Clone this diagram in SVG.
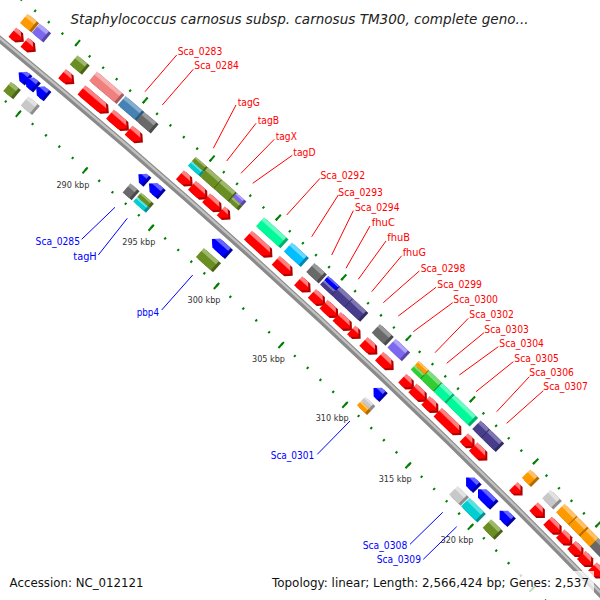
<svg xmlns="http://www.w3.org/2000/svg" width="600" height="600" viewBox="0 0 600 600">
<style>
text{font-family:"DejaVu Sans","Liberation Sans",sans-serif}
.lf{fill:#f00;font-size:10px}
.lb{fill:#00f;font-size:10px;text-anchor:end}
.kb{fill:#333;font-size:8.5px;text-anchor:middle}
.rl{stroke:#f00;stroke-width:1}
.bl{stroke:#00f;stroke-width:1}
.tk{fill:none;stroke:#007f00}
.R{fill:url(#gR)}.Rs{fill:#b00000}
.B{fill:url(#gB)}.Bs{fill:#0000a8}
.O{fill:url(#gO)}.Os{fill:#b36b00}
.P{fill:url(#gP)}.Ps{fill:#5646a6}
.V{fill:url(#gV)}.Vs{fill:#4a6318}
.C{fill:url(#gC)}.Cs{fill:#a85a5a}
.S{fill:url(#gS)}.Ss{fill:#315b7e}
.D{fill:url(#gD)}.Ds{fill:#4a4a4a}
.T{fill:url(#gT)}.Ts{fill:#009092}
.G{fill:url(#gG)}.Gs{fill:#00af6c}
.K{fill:url(#gK)}.Ks{fill:#0086b3}
.N{fill:url(#gN)}.Ns{fill:#322b61}
.L{fill:url(#gL)}.Ls{fill:#238f23}
.Y{fill:url(#gY)}.Ys{fill:#8c8c8c}
</style>
<defs>
<linearGradient id="gR" x1="0" y1="0" x2="0" y2="1"><stop offset=".28" stop-color="#ff8080"/><stop offset=".38" stop-color="#f00"/></linearGradient>
<linearGradient id="gB" x1="0" y1="0" x2="0" y2="1"><stop offset=".28" stop-color="#6666ff"/><stop offset=".38" stop-color="#00f"/></linearGradient>
<linearGradient id="gO" x1="0" y1="0" x2="0" y2="1"><stop offset=".28" stop-color="#ffc266"/><stop offset=".38" stop-color="#ff9900"/></linearGradient>
<linearGradient id="gP" x1="0" y1="0" x2="0" y2="1"><stop offset=".28" stop-color="#b0a4f5"/><stop offset=".38" stop-color="#7b68ee"/></linearGradient>
<linearGradient id="gV" x1="0" y1="0" x2="0" y2="1"><stop offset=".28" stop-color="#9db86b"/><stop offset=".38" stop-color="#6b8e23"/></linearGradient>
<linearGradient id="gC" x1="0" y1="0" x2="0" y2="1"><stop offset=".28" stop-color="#f6b0b0"/><stop offset=".38" stop-color="#f08080"/></linearGradient>
<linearGradient id="gS" x1="0" y1="0" x2="0" y2="1"><stop offset=".28" stop-color="#84adcf"/><stop offset=".38" stop-color="#4682b4"/></linearGradient>
<linearGradient id="gD" x1="0" y1="0" x2="0" y2="1"><stop offset=".28" stop-color="#9a9a9a"/><stop offset=".38" stop-color="#696969"/></linearGradient>
<linearGradient id="gT" x1="0" y1="0" x2="0" y2="1"><stop offset=".28" stop-color="#5ce1e3"/><stop offset=".38" stop-color="#00ced1"/></linearGradient>
<linearGradient id="gG" x1="0" y1="0" x2="0" y2="1"><stop offset=".28" stop-color="#66fcc2"/><stop offset=".38" stop-color="#00fa9a"/></linearGradient>
<linearGradient id="gK" x1="0" y1="0" x2="0" y2="1"><stop offset=".28" stop-color="#66d9ff"/><stop offset=".38" stop-color="#00bfff"/></linearGradient>
<linearGradient id="gN" x1="0" y1="0" x2="0" y2="1"><stop offset=".28" stop-color="#7f77b3"/><stop offset=".38" stop-color="#483d8b"/></linearGradient>
<linearGradient id="gL" x1="0" y1="0" x2="0" y2="1"><stop offset=".28" stop-color="#7cdf7c"/><stop offset=".38" stop-color="#32cd32"/></linearGradient>
<linearGradient id="gY" x1="0" y1="0" x2="0" y2="1"><stop offset=".28" stop-color="#e2e2e2"/><stop offset=".38" stop-color="#c8c8c8"/></linearGradient>
</defs>
<rect width="600" height="600" fill="#fff"/>
<g id="map" transform="translate(279.8 346.5) rotate(42.76)">
<g id="ruler">
<path class="tk" stroke-width="2.5" stroke-dasharray="2 15.508" stroke-dashoffset="1" d="M-437.45 10.142A7151.25 7151.25 0 0 1 437.45 10.142"/>
<path class="tk" stroke-width="8" stroke-dasharray="2 85.524" stroke-dashoffset="1" d="M-437.37 11.39A7150 7150 0 0 1 437.37 11.39"/>
<path class="tk" stroke-width="2.5" stroke-dasharray="2 15.7245" stroke-dashoffset="1" d="M-442.86-78.192A7239.75 7239.75 0 0 1 442.86-78.192"/>
<path class="tk" stroke-width="7.5" stroke-dasharray="2 86.6538" stroke-dashoffset="1" d="M-443.01-80.688A7242.25 7242.25 0 0 1 443.01-80.688"/>
</g>
<g id="backbone">
<path d="M-476.86-31.478A7195.3 7195.3 0 0 1 476.86-31.478" fill="none" stroke="#8a8a8a" stroke-width="6.5"/>
<path d="M-476.93-32.475A7196.3 7196.3 0 0 1 476.93-32.475" fill="none" stroke="#c2c2c2" stroke-width="2.2"/>
</g>
<g id="forward">
<g id="f01" transform="rotate(-3.21103 0 7148)"><path class="Rs" transform="translate(3)" d="M-6-66.8H0L6-60.8 0-54.8H-6Z"/><path class="R" d="M-6-66.8H0L6-60.8 0-54.8H-6Z"/><rect class="Os" x="-3" y="-84.8" width="12" height="12"/><rect class="O" x="-6" y="-84.8" width="12" height="12"/></g>
<g id="f02" transform="rotate(-3.08783 0 7148)"><path class="Rs" transform="translate(3)" d="M-6-66.8H0L6-60.8 0-54.8H-6Z"/><path class="R" d="M-6-66.8H0L6-60.8 0-54.8H-6Z"/><rect class="Ps" x="-3" y="-84.8" width="12" height="12"/><rect class="P" x="-6" y="-84.8" width="12" height="12"/></g>
<g id="f03" transform="rotate(-2.69282 0 7148)"><path class="Rs" transform="translate(3)" d="M-6.5-66.8H.5L6.5-60.8 .5-54.8H-6.5Z"/><path class="R" d="M-6.5-66.8H.5L6.5-60.8 .5-54.8H-6.5Z"/><rect class="Vs" x="-3.5" y="-84.8" width="13" height="12"/><rect class="V" x="-6.5" y="-84.8" width="13" height="12"/></g>
<g id="f04" transform="rotate(-2.41224 0 7148)"><path class="Rs" transform="translate(3)" d="M-16.5-66.8H10.5L16.5-60.8 10.5-54.8H-16.5Z"/><path class="R" d="M-16.5-66.8H10.5L16.5-60.8 10.5-54.8H-16.5Z"/><rect class="Cs" x="-13.5" y="-84.8" width="33" height="12"/><rect class="C" x="-16.5" y="-84.8" width="33" height="12"/></g>
<g id="Sca_0283" transform="rotate(-2.15791 0 7148)"><path class="Rs" transform="translate(3)" d="M-11-66.8H5L11-60.8 5-54.8H-11Z"/><path class="R" d="M-11-66.8H5L11-60.8 5-54.8H-11Z"/><rect class="Ss" x="-8" y="-84.8" width="22" height="12"/><rect class="S" x="-11" y="-84.8" width="22" height="12"/></g>
<g id="Sca_0284" transform="rotate(-1.98703 0 7148)"><path class="Rs" transform="translate(3)" d="M-8-66.8H2L8-60.8 2-54.8H-8Z"/><path class="R" d="M-8-66.8H2L8-60.8 2-54.8H-8Z"/><rect class="Ds" x="-5" y="-84.8" width="16" height="12"/><rect class="D" x="-8" y="-84.8" width="16" height="12"/></g>
<g id="tagG" transform="rotate(-1.4545 0 7148)"><path class="Rs" transform="translate(3)" d="M-7-66.8H1L7-60.8 1-54.8H-7Z"/><path class="R" d="M-7-66.8H1L7-60.8 1-54.8H-7Z"/><rect class="Vs" x="-4" y="-84.8" width="14" height="6"/><rect class="V" x="-7" y="-84.8" width="14" height="6"/><rect class="Ts" x="-4" y="-78.8" width="14" height="6"/><rect class="T" x="-7" y="-78.8" width="14" height="6"/></g>
<g id="tagB" transform="rotate(-1.31144 0 7148)"><path class="Rs" transform="translate(3)" d="M-9-66.8H3L9-60.8 3-54.8H-9Z"/><path class="R" d="M-9-66.8H3L9-60.8 3-54.8H-9Z"/><rect class="Vs" x="-6" y="-84.8" width="18" height="12"/><rect class="V" x="-9" y="-84.8" width="18" height="12"/></g>
<g id="tagX" transform="rotate(-1.16122 0 7148)"><path class="Rs" transform="translate(3)" d="M-9-66.8H3L9-60.8 3-54.8H-9Z"/><path class="R" d="M-9-66.8H3L9-60.8 3-54.8H-9Z"/><rect class="Vs" x="-6" y="-84.8" width="18" height="12"/><rect class="V" x="-9" y="-84.8" width="18" height="12"/></g>
<g id="tagD" transform="rotate(-1.03723 0 7148)"><path class="Rs" transform="translate(3)" d="M-5-66.8H-1L5-60.8-1-54.8H-5Z"/><path class="R" d="M-5-66.8H-1L5-60.8-1-54.8H-5Z"/><rect class="Ps" x="-2" y="-84.8" width="10" height="6"/><rect class="P" x="-5" y="-84.8" width="10" height="6"/><rect class="Vs" x="-2" y="-78.8" width="10" height="6"/><rect class="V" x="-5" y="-78.8" width="10" height="6"/></g>
<g id="Sca_0292" transform="rotate(-0.66764 0 7148)"><path class="Rs" transform="translate(3)" d="M-15-66.8H9L15-60.8 9-54.8H-15Z"/><path class="R" d="M-15-66.8H9L15-60.8 9-54.8H-15Z"/><rect class="Gs" x="-12" y="-84.8" width="30" height="12"/><rect class="G" x="-15" y="-84.8" width="30" height="12"/></g>
<g id="Sca_0293" transform="rotate(-0.40933 0 7148)"><path class="Rs" transform="translate(3)" d="M-10-66.8H4L10-60.8 4-54.8H-10Z"/><path class="R" d="M-10-66.8H4L10-60.8 4-54.8H-10Z"/><rect class="Ks" x="-7" y="-84.8" width="20" height="12"/><rect class="K" x="-10" y="-84.8" width="20" height="12"/></g>
<g id="Sca_0294" transform="rotate(-0.19234 0 7148)"><path class="Rs" transform="translate(3)" d="M-7-66.8H1L7-60.8 1-54.8H-7Z"/><path class="R" d="M-7-66.8H1L7-60.8 1-54.8H-7Z"/><rect class="Ds" x="-4" y="-84.8" width="14" height="12"/><rect class="D" x="-7" y="-84.8" width="14" height="12"/></g>
<g id="fhuC" transform="rotate(-0.03974 0 7148)"><path class="Rs" transform="translate(3)" d="M-7.5-66.8H1.5L7.5-60.8 1.5-54.8H-7.5Z"/><path class="R" d="M-7.5-66.8H1.5L7.5-60.8 1.5-54.8H-7.5Z"/><rect class="Bs" x="-4.5" y="-84.8" width="15" height="6"/><rect class="B" x="-7.5" y="-84.8" width="15" height="6"/><rect class="Ns" x="-4.5" y="-78.8" width="15" height="6"/><rect class="N" x="-7.5" y="-78.8" width="15" height="6"/></g>
<g id="fhuB" transform="rotate(0.09458 0 7148)"><path class="Rs" transform="translate(3)" d="M-8.5-66.8H2.5L8.5-60.8 2.5-54.8H-8.5Z"/><path class="R" d="M-8.5-66.8H2.5L8.5-60.8 2.5-54.8H-8.5Z"/><rect class="Ns" x="-5.5" y="-84.8" width="17" height="12"/><rect class="N" x="-8.5" y="-84.8" width="17" height="12"/></g>
<g id="fhuG" transform="rotate(0.24003 0 7148)"><path class="Rs" transform="translate(3)" d="M-9-66.8H3L9-60.8 3-54.8H-9Z"/><path class="R" d="M-9-66.8H3L9-60.8 3-54.8H-9Z"/><rect class="Ns" x="-6" y="-84.8" width="18" height="12"/><rect class="N" x="-9" y="-84.8" width="18" height="12"/></g>
<g id="Sca_0298" transform="rotate(0.36641 0 7148)"><path class="Rs" transform="translate(3)" d="M-5-66.8H-1L5-60.8-1-54.8H-5Z"/><path class="R" d="M-5-66.8H-1L5-60.8-1-54.8H-5Z"/></g>
<g id="Sca_0299" transform="rotate(0.52457 0 7148)"><path class="Rs" transform="translate(3)" d="M-8-66.8H2L8-60.8 2-54.8H-8Z"/><path class="R" d="M-8-66.8H2L8-60.8 2-54.8H-8Z"/><rect class="Ds" x="-5" y="-84.8" width="16" height="12"/><rect class="D" x="-8" y="-84.8" width="16" height="12"/></g>
<g id="Sca_0300" transform="rotate(0.69943 0 7148)"><path class="Rs" transform="translate(3)" d="M-8.5-66.8H2.5L8.5-60.8 2.5-54.8H-8.5Z"/><path class="R" d="M-8.5-66.8H2.5L8.5-60.8 2.5-54.8H-8.5Z"/><rect class="Ps" x="-5.5" y="-84.8" width="17" height="12"/><rect class="P" x="-8.5" y="-84.8" width="17" height="12"/></g>
<g id="Sca_0302" transform="rotate(0.93788 0 7148)"><path class="Rs" transform="translate(3)" d="M-6.5-66.8H.5L6.5-60.8 .5-54.8H-6.5Z"/><path class="R" d="M-6.5-66.8H.5L6.5-60.8 .5-54.8H-6.5Z"/><rect class="Os" x="-3.5" y="-84.8" width="13" height="6"/><rect class="O" x="-6.5" y="-84.8" width="13" height="6"/><rect class="Ls" x="-3.5" y="-78.8" width="13" height="6"/><rect class="L" x="-6.5" y="-78.8" width="13" height="6"/></g>
<g id="Sca_0303" transform="rotate(1.06505 0 7148)"><path class="Rs" transform="translate(3)" d="M-8.5-66.8H2.5L8.5-60.8 2.5-54.8H-8.5Z"/><path class="R" d="M-8.5-66.8H2.5L8.5-60.8 2.5-54.8H-8.5Z"/><rect class="Ls" x="-5.5" y="-84.8" width="17" height="12"/><rect class="L" x="-8.5" y="-84.8" width="17" height="12"/></g>
<g id="Sca_0304" transform="rotate(1.20016 0 7148)"><path class="Rs" transform="translate(3)" d="M-7.5-66.8H1.5L7.5-60.8 1.5-54.8H-7.5Z"/><path class="R" d="M-7.5-66.8H1.5L7.5-60.8 1.5-54.8H-7.5Z"/><rect class="Gs" x="-4.5" y="-84.8" width="15" height="12"/><rect class="G" x="-7.5" y="-84.8" width="15" height="12"/></g>
<g id="Sca_0305" transform="rotate(1.39489 0 7148)"><path class="Rs" transform="translate(3)" d="M-15-66.8H9L15-60.8 9-54.8H-15Z"/><path class="R" d="M-15-66.8H9L15-60.8 9-54.8H-15Z"/><rect class="Gs" x="-12" y="-84.8" width="30" height="12"/><rect class="G" x="-15" y="-84.8" width="30" height="12"/></g>
<g id="Sca_0306" transform="rotate(1.61346 0 7148)"><path class="Rs" transform="translate(3)" d="M-6-66.8H0L6-60.8 0-54.8H-6Z"/><path class="R" d="M-6-66.8H0L6-60.8 0-54.8H-6Z"/><rect class="Ns" x="-3" y="-84.8" width="12" height="12"/><rect class="N" x="-6" y="-84.8" width="12" height="12"/></g>
<g id="Sca_0307" transform="rotate(1.73587 0 7148)"><path class="Rs" transform="translate(3)" d="M-8.5-66.8H2.5L8.5-60.8 2.5-54.8H-8.5Z"/><path class="R" d="M-8.5-66.8H2.5L8.5-60.8 2.5-54.8H-8.5Z"/><rect class="Ns" x="-5.5" y="-84.8" width="17" height="12"/><rect class="N" x="-8.5" y="-84.8" width="17" height="12"/></g>
<g id="f26" transform="rotate(2.15791 0 7148)"><path class="Rs" transform="translate(3)" d="M-5-66.8H-1L5-60.8-1-54.8H-5Z"/><path class="R" d="M-5-66.8H-1L5-60.8-1-54.8H-5Z"/><rect class="Os" x="-2" y="-84.8" width="10" height="12"/><rect class="O" x="-5" y="-84.8" width="10" height="12"/></g>
<g id="f27" transform="rotate(2.39715 0 7148)"><path class="Rs" transform="translate(3)" d="M-6.5-66.8H.5L6.5-60.8 .5-54.8H-6.5Z"/><path class="R" d="M-6.5-66.8H.5L6.5-60.8 .5-54.8H-6.5Z"/><rect class="Ys" x="-3.5" y="-84.8" width="13" height="12"/><rect class="Y" x="-6.5" y="-84.8" width="13" height="12"/></g>
<g id="f28" transform="rotate(2.57042 0 7148)"><path class="Rs" transform="translate(3)" d="M-8.5-66.8H2.5L8.5-60.8 2.5-54.8H-8.5Z"/><path class="R" d="M-8.5-66.8H2.5L8.5-60.8 2.5-54.8H-8.5Z"/><rect class="Os" x="-5.5" y="-84.8" width="17" height="12"/><rect class="O" x="-8.5" y="-84.8" width="17" height="12"/></g>
<g id="f29" transform="rotate(2.70235 0 7148)"><path class="Rs" transform="translate(3)" d="M-7-66.8H1L7-60.8 1-54.8H-7Z"/><path class="R" d="M-7-66.8H1L7-60.8 1-54.8H-7Z"/><rect class="Os" x="-4" y="-84.8" width="14" height="12"/><rect class="O" x="-7" y="-84.8" width="14" height="12"/></g>
<g id="f30" transform="rotate(2.82952 0 7148)"><path class="Rs" transform="translate(3)" d="M-7-66.8H1L7-60.8 1-54.8H-7Z"/><path class="R" d="M-7-66.8H1L7-60.8 1-54.8H-7Z"/><rect class="Os" x="-4" y="-84.8" width="14" height="12"/><rect class="O" x="-7" y="-84.8" width="14" height="12"/></g>
<g id="f31" transform="rotate(2.9408 0 7148)"><path class="Rs" transform="translate(3)" d="M-7-66.8H1L7-60.8 1-54.8H-7Z"/><path class="R" d="M-7-66.8H1L7-60.8 1-54.8H-7Z"/><rect class="Ds" x="-4" y="-84.8" width="14" height="12"/><rect class="D" x="-7" y="-84.8" width="14" height="12"/></g>
<g id="f32" transform="rotate(3.06797 0 7148)"><path class="Rs" transform="translate(3)" d="M-7-66.8H1L7-60.8 1-54.8H-7Z"/><path class="R" d="M-7-66.8H1L7-60.8 1-54.8H-7Z"/></g>
</g>
<g id="reverse">
<g id="r01" transform="rotate(-2.97579 0 7148)"><path class="Bs" transform="translate(3)" d="M5-39.8H1L-5-33.8 1-27.8H5Z"/><path class="B" d="M5-39.8H1L-5-33.8 1-27.8H5Z"/><rect class="Vs" x="-2" y="-21.8" width="10" height="12"/><rect class="V" x="-5" y="-21.8" width="10" height="12"/></g>
<g id="r02" transform="rotate(-2.89601 0 7148)"><path class="Bs" transform="translate(3)" d="M6-39.8H0L-6-33.8 0-27.8H6Z"/><path class="B" d="M6-39.8H0L-6-33.8 0-27.8H6Z"/></g>
<g id="r03" transform="rotate(-2.78592 0 7148)"><path class="Bs" transform="translate(3)" d="M6-39.8H0L-6-33.8 0-27.8H6Z"/><path class="B" d="M6-39.8H0L-6-33.8 0-27.8H6Z"/><rect class="Ys" x="-3" y="-21.8" width="12" height="12"/><rect class="Y" x="-6" y="-21.8" width="12" height="12"/></g>
<g id="Sca_0285" transform="rotate(-1.72561 0 7148)"><path class="Bs" transform="translate(3)" d="M4.5-39.8H1.5L-4.5-33.8 1.5-27.8H4.5Z"/><path class="B" d="M4.5-39.8H1.5L-4.5-33.8 1.5-27.8H4.5Z"/><rect class="Ds" x="-1.5" y="-21.8" width="9" height="12"/><rect class="D" x="-4.5" y="-21.8" width="9" height="12"/></g>
<g id="tagH" transform="rotate(-1.59321 0 7148)"><path class="Bs" transform="translate(3)" d="M7-39.8H-1L-7-33.8-1-27.8H7Z"/><path class="B" d="M7-39.8H-1L-7-33.8-1-27.8H7Z"/><rect class="Vs" x="-4" y="-21.8" width="14" height="6"/><rect class="V" x="-7" y="-21.8" width="14" height="6"/><rect class="Ts" x="-4" y="-15.8" width="14" height="6"/><rect class="T" x="-7" y="-15.8" width="14" height="6"/></g>
<g id="pbp4" transform="rotate(-0.89992 0 7148)"><path class="Bs" transform="translate(3)" d="M10-39.8H-4L-10-33.8-4-27.8H10Z"/><path class="B" d="M10-39.8H-4L-10-33.8-4-27.8H10Z"/><rect class="Vs" x="-7" y="-21.8" width="20" height="12"/><rect class="V" x="-10" y="-21.8" width="20" height="12"/></g>
<g id="Sca_0301" transform="rotate(0.81695 0 7148)"><path class="Bs" transform="translate(3)" d="M5.5-39.8H.5L-5.5-33.8 .5-27.8H5.5Z"/><path class="B" d="M5.5-39.8H.5L-5.5-33.8 .5-27.8H5.5Z"/><rect class="Ys" x="-2.5" y="-21.8" width="11" height="6"/><rect class="Y" x="-5.5" y="-21.8" width="11" height="6"/><rect class="Os" x="-2.5" y="-15.8" width="11" height="6"/><rect class="O" x="-5.5" y="-15.8" width="11" height="6"/></g>
<g id="Sca_0308" transform="rotate(1.85249 0 7148)"><path class="Bs" transform="translate(3)" d="M6.5-39.8H-.5L-6.5-33.8-.5-27.8H6.5Z"/><path class="B" d="M6.5-39.8H-.5L-6.5-33.8-.5-27.8H6.5Z"/><rect class="Ys" x="-3.5" y="-21.8" width="13" height="12"/><rect class="Y" x="-6.5" y="-21.8" width="13" height="12"/></g>
<g id="Sca_0309" transform="rotate(2.01445 0 7148)"><path class="Bs" transform="translate(3)" d="M10-39.8H-4L-10-33.8-4-27.8H10Z"/><path class="B" d="M10-39.8H-4L-10-33.8-4-27.8H10Z"/><rect class="Ts" x="-7" y="-21.8" width="20" height="12"/><rect class="T" x="-10" y="-21.8" width="20" height="12"/></g>
<g id="r10" transform="rotate(2.23384 0 7148)"><path class="Bs" transform="translate(3)" d="M7-39.8H-1L-7-33.8-1-27.8H7Z"/><path class="B" d="M7-39.8H-1L-7-33.8-1-27.8H7Z"/><rect class="Vs" x="-4" y="-21.8" width="14" height="12"/><rect class="V" x="-7" y="-21.8" width="14" height="12"/></g>
</g>
</g>
<g id="ruler-labels">
<text class="kb" x="72.9" y="187.5" textLength="33" lengthAdjust="spacingAndGlyphs">290 kbp</text>
<text class="kb" x="138.8" y="244.8" textLength="33" lengthAdjust="spacingAndGlyphs">295 kbp</text>
<text class="kb" x="204" y="302.9" textLength="33" lengthAdjust="spacingAndGlyphs">300 kbp</text>
<text class="kb" x="268.5" y="361.8" textLength="33" lengthAdjust="spacingAndGlyphs">305 kbp</text>
<text class="kb" x="332.2" y="421.4" textLength="33" lengthAdjust="spacingAndGlyphs">310 kbp</text>
<text class="kb" x="395.2" y="481.8" textLength="33" lengthAdjust="spacingAndGlyphs">315 kbp</text>
<text class="kb" x="457" y="543" textLength="33" lengthAdjust="spacingAndGlyphs">320 kbp</text>
</g>
<g id="connectors">
<line class="rl" x1="176.7" y1="55" x2="145" y2="91.7"/>
<line class="rl" x1="193.3" y1="69.3" x2="162.3" y2="105"/>
<line class="rl" x1="236" y1="105" x2="213.3" y2="148.3"/>
<line class="rl" x1="256" y1="123.3" x2="226.7" y2="161"/>
<line class="rl" x1="274.3" y1="139.3" x2="241" y2="173.3"/>
<line class="rl" x1="292.3" y1="155.3" x2="252.7" y2="183.3"/>
<line class="rl" x1="320" y1="178.3" x2="286.7" y2="215"/>
<line class="rl" x1="338.3" y1="195" x2="311.7" y2="236.7"/>
<line class="rl" x1="353.3" y1="210.7" x2="331.7" y2="255"/>
<line class="rl" x1="370" y1="226" x2="346" y2="268.3"/>
<line class="rl" x1="386" y1="241" x2="358.3" y2="279.3"/>
<line class="rl" x1="401.7" y1="255.7" x2="371.7" y2="291.7"/>
<line class="rl" x1="419.3" y1="271" x2="383.3" y2="302.7"/>
<line class="rl" x1="436" y1="287.3" x2="398.3" y2="316"/>
<line class="rl" x1="452.7" y1="302.7" x2="413.3" y2="331.7"/>
<line class="rl" x1="468.3" y1="318.3" x2="435" y2="352.7"/>
<line class="rl" x1="484" y1="332.7" x2="446.7" y2="363.3"/>
<line class="rl" x1="498.3" y1="346.7" x2="459.3" y2="375"/>
<line class="rl" x1="513.3" y1="361.7" x2="476" y2="391.7"/>
<line class="rl" x1="529.3" y1="376.7" x2="496.7" y2="411.7"/>
<line class="rl" x1="543.3" y1="390.7" x2="506.7" y2="423.3"/>
<line class="bl" x1="81.7" y1="239.3" x2="115" y2="207.3"/>
<line class="bl" x1="98.3" y1="255" x2="127.3" y2="218.3"/>
<line class="bl" x1="161.7" y1="310" x2="192.7" y2="275"/>
<line class="bl" x1="317.3" y1="454.3" x2="350" y2="421"/>
<line class="bl" x1="410" y1="544.3" x2="442.7" y2="512.3"/>
<line class="bl" x1="423.3" y1="559.3" x2="456.7" y2="526.7"/>
</g>
<g id="labels">
<text class="lf" x="177.7" y="55" textLength="44.6" lengthAdjust="spacingAndGlyphs">Sca_0283</text>
<text class="lf" x="194.3" y="69.4" textLength="44.6" lengthAdjust="spacingAndGlyphs">Sca_0284</text>
<text class="lf" x="237.7" y="106" textLength="22.3" lengthAdjust="spacingAndGlyphs">tagG</text>
<text class="lf" x="257.7" y="123.7" textLength="21.5" lengthAdjust="spacingAndGlyphs">tagB</text>
<text class="lf" x="275.7" y="140" textLength="21.2" lengthAdjust="spacingAndGlyphs">tagX</text>
<text class="lf" x="293.3" y="156" textLength="22.3" lengthAdjust="spacingAndGlyphs">tagD</text>
<text class="lf" x="320.5" y="179.4" textLength="44.6" lengthAdjust="spacingAndGlyphs">Sca_0292</text>
<text class="lf" x="338.3" y="196" textLength="44.6" lengthAdjust="spacingAndGlyphs">Sca_0293</text>
<text class="lf" x="355" y="211" textLength="44.6" lengthAdjust="spacingAndGlyphs">Sca_0294</text>
<text class="lf" x="371.7" y="226" textLength="23.3" lengthAdjust="spacingAndGlyphs">fhuC</text>
<text class="lf" x="387.3" y="241" textLength="22.7" lengthAdjust="spacingAndGlyphs">fhuB</text>
<text class="lf" x="402.7" y="255.5" textLength="23.3" lengthAdjust="spacingAndGlyphs">fhuG</text>
<text class="lf" x="420.7" y="271.7" textLength="44.6" lengthAdjust="spacingAndGlyphs">Sca_0298</text>
<text class="lf" x="437.3" y="287.7" textLength="44.6" lengthAdjust="spacingAndGlyphs">Sca_0299</text>
<text class="lf" x="453.3" y="302.7" textLength="44.6" lengthAdjust="spacingAndGlyphs">Sca_0300</text>
<text class="lf" x="469.3" y="318.4" textLength="44.6" lengthAdjust="spacingAndGlyphs">Sca_0302</text>
<text class="lf" x="484.3" y="332.7" textLength="44.6" lengthAdjust="spacingAndGlyphs">Sca_0303</text>
<text class="lf" x="499.3" y="346.7" textLength="44.6" lengthAdjust="spacingAndGlyphs">Sca_0304</text>
<text class="lf" x="514.3" y="361.7" textLength="44.6" lengthAdjust="spacingAndGlyphs">Sca_0305</text>
<text class="lf" x="529.3" y="376" textLength="44.6" lengthAdjust="spacingAndGlyphs">Sca_0306</text>
<text class="lf" x="543.3" y="390.4" textLength="44.6" lengthAdjust="spacingAndGlyphs">Sca_0307</text>
<text class="lb" x="80" y="245.3" textLength="44.4" lengthAdjust="spacingAndGlyphs">Sca_0285</text>
<text class="lb" x="96.7" y="259.8" textLength="23.4" lengthAdjust="spacingAndGlyphs">tagH</text>
<text class="lb" x="159" y="315.8" textLength="22.3" lengthAdjust="spacingAndGlyphs">pbp4</text>
<text class="lb" x="314.3" y="459.4" textLength="43.6" lengthAdjust="spacingAndGlyphs">Sca_0301</text>
<text class="lb" x="407.3" y="549.4" textLength="44.6" lengthAdjust="spacingAndGlyphs">Sca_0308</text>
<text class="lb" x="421" y="563.4" textLength="44.3" lengthAdjust="spacingAndGlyphs">Sca_0309</text>
</g>
<g id="title">
<text x="70.5" y="23.5" font-size="13.5" font-style="italic" fill="#222" textLength="458" lengthAdjust="spacingAndGlyphs">Staphylococcus carnosus subsp. carnosus TM300, complete geno...</text>
</g>
<g id="footer">
<rect x="4" y="571" width="146" height="27" fill="#fff" fill-opacity=".75"/>
<rect x="266" y="571" width="328" height="27" fill="#fff" fill-opacity=".75"/>
<text x="9.6" y="587" font-size="12" fill="#111" textLength="134" lengthAdjust="spacingAndGlyphs">Accession: NC_012121</text>
<text x="272" y="587" font-size="12" fill="#111" textLength="317" lengthAdjust="spacingAndGlyphs">Topology: linear; Length: 2,566,424 bp; Genes: 2,537</text>
</g>
</svg>
